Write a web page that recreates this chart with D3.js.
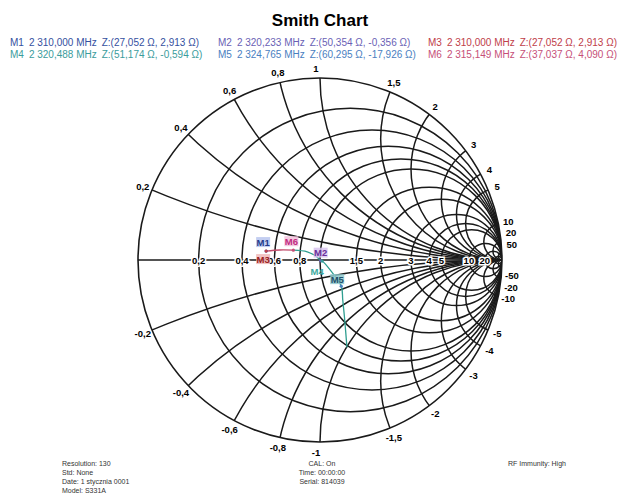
<!DOCTYPE html>
<html>
<head>
<meta charset="utf-8">
<script src="https://cdn.jsdelivr.net/npm/d3@7"></script>
<style>
  body { margin: 0; background: #fff; }
  svg { font-family: "Liberation Sans", Arial, sans-serif; }
</style>
</head>
<body>
<div id="chart"></div>
<script>
// marker data (freq in MHz, impedance in ohm)
var markerNames = ["M1", "M2", "M3", "M4", "M5", "M6"];
var markerFreq = [2310.000, 2320.233, 2310.000, 2320.488, 2324.765, 2315.149];
var markerRes = [27.052, 50.354, 27.052, 51.174, 60.295, 37.037];
var markerReact = [2.913, -0.356, 2.913, -0.594, -17.926, 4.090];
var markerColors = ["#3450a0", "#6a5fb5", "#c0404a", "#3a9c9c", "#4a80bf", "#c64f78"];
var labelColors = ["#243a8a", "#6a2f9a", "#9a2020", "#40aaa0", "#1f4f6a", "#c02a80"];
var labelFills = ["#b9c6ee", "#d8c4ee", "#f0b8b8", "none", "#8ec8cc", "#f2c2dc"];

// grid values
var resValues = [0.2, 0.4, 0.6, 0.8, 1, 1.5, 2, 3, 4, 5, 10, 20, 50];
var reactValues = [0.2, 0.4, 0.6, 0.8, 1, 1.5, 2, 3, 4, 5, 10, 20, 50];
var axisLabels = [0.2, 0.4, 0.6, 0.8, 1.5, 2, 3, 4, 5, 10, 20];

var traceRe = [-0.296, -0.22, -0.146, -0.07, -0.02, 0.0035, 0.0116, 0.06, 0.117, 0.125, 0.135, 0.148];
var traceIm = [0.049, 0.055, 0.054, 0.045, 0.02, -0.0035, -0.0059, -0.06, -0.144, -0.22, -0.32, -0.48];

var infoLeft = ["Resolution: 130", "Std: None", "Date: 1 stycznia 0001", "Model: S331A"];
var infoMid = ["CAL: On", "Time: 00:00:00", "Serial: 814039"];
var infoRight = ["RF Immunity: High"];

var W = 626, H = 497;
var cx = 320, cy = 260, R = 182;
var Z0 = 50;

var loc = d3.formatLocale({ decimal: ",", thousands: " ", grouping: [3], currency: ["", ""], minus: "-" });
var f3 = loc.format(",.3f");

var svg = d3.select("#chart").append("svg")
    .attr("width", W)
    .attr("height", H);

var x = d3.scaleLinear().domain([-1, 1]).range([cx - R, cx + R]);
var y = d3.scaleLinear().domain([-1, 1]).range([cy + R, cy - R]);

function gamma(r, xv) {
    // (z-1)/(z+1)
    var dr = r + 1, di = xv;
    var nr = r - 1, ni = xv;
    var d = dr * dr + di * di;
    return [(nr * dr + ni * di) / d, (ni * dr - nr * di) / d];
}

// title
svg.append("text")
    .attr("x", 320).attr("y", 26)
    .attr("text-anchor", "middle")
    .style("font-size", "17px").style("font-weight", "bold")
    .text("Smith Chart");

// legend
var legX = [10, 218, 428];
markerNames.forEach(function (m, i) {
    var t = svg.append("text")
        .attr("x", legX[i % 3])
        .attr("y", 46 + Math.floor(i / 3) * 12)
        .attr("fill", markerColors[i])
        .style("font-size", "10px");
    t.append("tspan").text(m);
    t.append("tspan").attr("dx", 5).text(f3(markerFreq[i]) + " MHz");
    t.append("tspan").attr("dx", 5).text("Z:(" + f3(markerRes[i]) + " \u03a9, " + f3(markerReact[i]) + " \u03a9)");
});

// grid
svg.append("clipPath").attr("id", "unit")
    .append("circle")
    .attr("cx", x(0)).attr("cy", y(0)).attr("r", R);

var grid = svg.append("g")
    .attr("clip-path", "url(#unit)")
    .attr("fill", "none")
    .attr("stroke", "#1a1a1a")
    .attr("stroke-width", 1.5);

grid.selectAll(".res")
    .data(resValues)
    .enter().append("circle")
    .attr("class", "res")
    .attr("cx", function (d) { return x(d / (d + 1)); })
    .attr("cy", y(0))
    .attr("r", function (d) { return x(1 / (d + 1)) - x(0); });

grid.selectAll(".react")
    .data(reactValues.concat(reactValues.map(function (d) { return -d; })))
    .enter().append("circle")
    .attr("class", "react")
    .attr("cx", x(1))
    .attr("cy", function (d) { return y(1 / d); })
    .attr("r", function (d) { return x(1 / Math.abs(d)) - x(0); });

grid.append("line")
    .attr("x1", x(-1)).attr("x2", x(1))
    .attr("y1", y(0)).attr("y2", y(0));

svg.append("circle")
    .attr("cx", x(0)).attr("cy", y(0)).attr("r", R)
    .attr("fill", "none").attr("stroke", "#1a1a1a").attr("stroke-width", 1.6);

function fmtVal(v) {
    return loc.format("")(v).replace(".", ",");
}

// labels on real axis
svg.selectAll(".axlab")
    .data(axisLabels)
    .enter().append("text")
    .attr("x", function (d) { return x((d - 1) / (d + 1)); })
    .attr("y", y(0) + 3.5)
    .attr("text-anchor", "middle")
    .attr("stroke", "#fff").attr("stroke-width", 3).attr("paint-order", "stroke")
    .style("font-size", "9.5px").style("font-weight", "bold")
    .text(function (d) { return fmtVal(d); });

// labels on rim
var rim = reactValues.concat(reactValues.map(function (d) { return -d; }));
svg.selectAll(".rimlab")
    .data(rim)
    .enter().append("text")
    .attr("x", function (d) {
        var t = Math.PI - 2 * Math.atan(d);
        var shift = Math.abs(d) === 1 ? -4 : 0;
        return x(0) + (R + 10) * Math.cos(t) + shift;
    })
    .attr("y", function (d) {
        var t = Math.PI - 2 * Math.atan(d);
        var extra = Math.abs(d) >= 20 ? (d > 0 ? -8 : 8) : 0;
        return y(0) - (R + 10) * Math.sin(t) + 3.5 + extra;
    })
    .attr("text-anchor", "middle")
    .style("font-size", "9.5px").style("font-weight", "bold")
    .text(function (d) { return fmtVal(d); });

// trace
var pts = traceRe.map(function (d, i) { return [d, traceIm[i]]; });
var line = d3.line()
    .x(function (d) { return x(d[0]); })
    .y(function (d) { return y(d[1]); })
    .curve(d3.curveCatmullRom);

svg.append("path")
    .datum(pts.slice(0, 3))
    .attr("d", line)
    .attr("fill", "none").attr("stroke", "#c04a6a").attr("stroke-width", 1.3);

svg.append("path")
    .datum(pts.slice(2))
    .attr("d", line)
    .attr("fill", "none").attr("stroke", "#2e9e90").attr("stroke-width", 1.3);

// markers
var labelOff = [[-3, -9], [0, -8], [-3, 8], [-5, 10], [-4, -7], [-2, -9]];
markerNames.forEach(function (m, i) {
    var g = gamma(markerRes[i] / Z0, markerReact[i] / Z0);
    var px = x(g[0]), py = y(g[1]);
    svg.append("circle")
        .attr("cx", px).attr("cy", py).attr("r", 1.6)
        .attr("fill", markerColors[i]);
    var lx = px + labelOff[i][0], ly = py + labelOff[i][1];
    if (labelFills[i] !== "none") {
        svg.append("rect")
            .attr("x", lx - 7).attr("y", ly - 5)
            .attr("width", 14).attr("height", 10)
            .attr("fill", labelFills[i]).attr("opacity", 0.85);
    }
    svg.append("text")
        .attr("x", lx).attr("y", ly + 3.5)
        .attr("text-anchor", "middle")
        .attr("fill", labelColors[i])
        .style("font-size", "9.5px").style("font-weight", "bold")
        .text(m);
});

// info block
function info(lines, xPos, anchor) {
    svg.selectAll(null)
        .data(lines)
        .enter().append("text")
        .attr("x", xPos)
        .attr("y", function (d, i) { return 466 + i * 9; })
        .attr("text-anchor", anchor)
        .attr("fill", "#333")
        .style("font-size", "7px")
        .text(function (d) { return d; });
}
info(infoLeft, 62, "start");
info(infoMid, 322, "middle");
info(infoRight, 508, "start");
</script>
</body>
</html>
